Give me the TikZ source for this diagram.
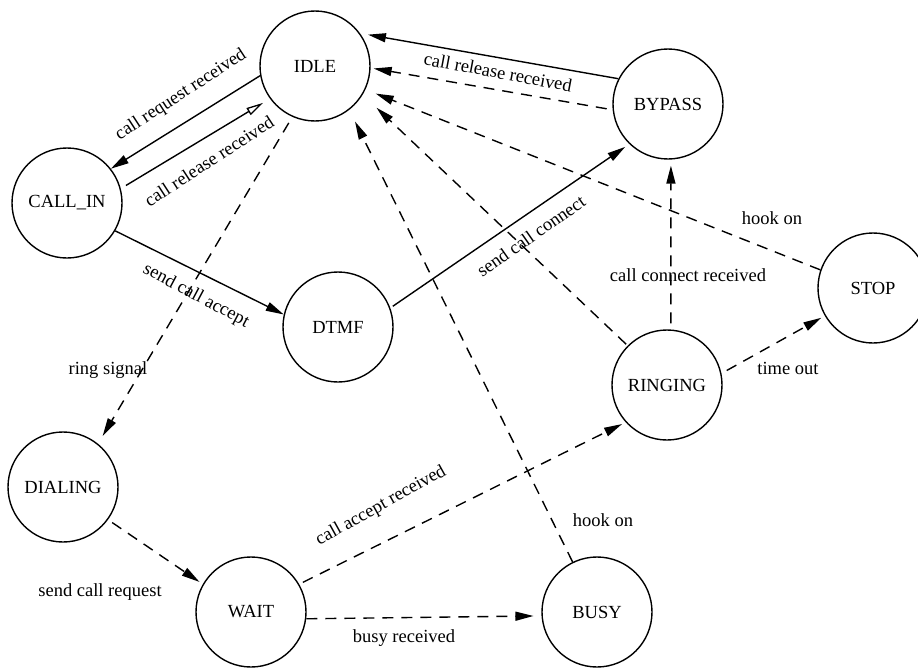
\documentclass[tikz,border=0pt]{standalone}
\usepackage{fontspec}
\setmainfont{Liberation Serif}
\usetikzlibrary{arrows.meta}
\begin{document}
\begin{tikzpicture}[x=1pt,y=-1pt,
  state/.style={draw,circle,line width=1.4pt,minimum size=110pt,inner sep=0pt,font=\fontsize{18.5}{20}\selectfont},
  lbl/.style={font=\fontsize{18.5}{20}\selectfont,inner sep=0pt},
  tr/.style={line width=1.4pt,-{Triangle[length=18pt,width=9pt]}},
  tropen/.style={line width=1.4pt,-{Triangle[open,length=17pt,width=8pt,line width=1.3pt]}},
  dsh/.style={tr,dash pattern=on 11pt off 8pt}]
\useasboundingbox (0,0) rectangle (918,669);
\node[state] (IDLE) at (315,66) {IDLE};
\node[state] (CALLIN) at (67,203) {CALL\_IN};
\node[state] (DTMF) at (338,327) {DTMF};
\node[state] (BYPASS) at (668,104) {BYPASS};
\node[state] (STOP) at (873,288) {STOP};
\node[state] (RINGING) at (667,385) {RINGING};
\node[state] (DIALING) at (63,487) {DIALING};
\node[state] (WAIT) at (251,612) {WAIT};
\node[state] (BUSY) at (597,612) {BUSY};

% solid transitions
\draw[tr] (IDLE.190) -- (CALLIN.38);
\draw[tropen,shorten <=6pt,shorten >=8pt] (CALLIN.15) -- (IDLE.216);
\draw[tr] (CALLIN.-30) -- (DTMF.167);
\draw[tr,shorten <=3pt,shorten >=5pt] (DTMF.20) -- (BYPASS.226);
\draw[tr,shorten >=8pt] (BYPASS.153) -- (IDLE.36);

% dashed transitions
\draw[dsh,shorten <=6pt,shorten >=3pt] (BYPASS.186) -- (IDLE.358);
\draw[dsh,shorten >=11pt] (STOP.161) -- (IDLE.335);
\draw[dsh,shorten <=2pt,shorten >=19pt] (RINGING.135) -- (IDLE.329);
\draw[dsh,shorten >=13pt] (BUSY.116) -- (IDLE.308);
\draw[dsh,shorten <=6pt,shorten >=6pt] (RINGING.86) -- (BYPASS.273);
\draw[dsh,shorten <=6pt,shorten >=4pt] (RINGING.12) -- (STOP.210);
\draw[dsh,shorten <=7pt,shorten >=9pt] (IDLE.246) -- (DIALING.51);
\draw[dsh,shorten <=5pt,shorten >=4pt] (DIALING.324) -- (WAIT.150);
\draw[dsh,shorten <=4pt,shorten >=4pt] (WAIT.30) -- (RINGING.222);
\draw[dsh,shorten >=8pt] (WAIT.353) -- (BUSY.184);

% labels
\node[lbl,rotate=33] (l1) at (181,95) {call request received};
\node[lbl,rotate=33] (l2) at (209,161) {call release received};
\node[lbl,rotate=-28] (l3) at (196,296) {send call accept};
\node[lbl,rotate=35] (l4) at (531,236) {send call connect};
\node[lbl,rotate=-10.5] (l5) at (498,72) {call release received};
\node[lbl] (l6) at (772,218) {hook on};
\node[lbl] (l7) at (688,275) {call connect received};
\node[lbl] (l8) at (788,368) {time out};
\node[lbl] (l9) at (108,370) {ring signal};
\node[lbl] (l10) at (100,592) {send call request};
\node[lbl,rotate=29] (l11) at (381,506) {call accept received};
\node[lbl] (l12) at (404,638) {busy received};
\node[lbl] (l13) at (603,520) {hook on};
\end{tikzpicture}
\end{document}
